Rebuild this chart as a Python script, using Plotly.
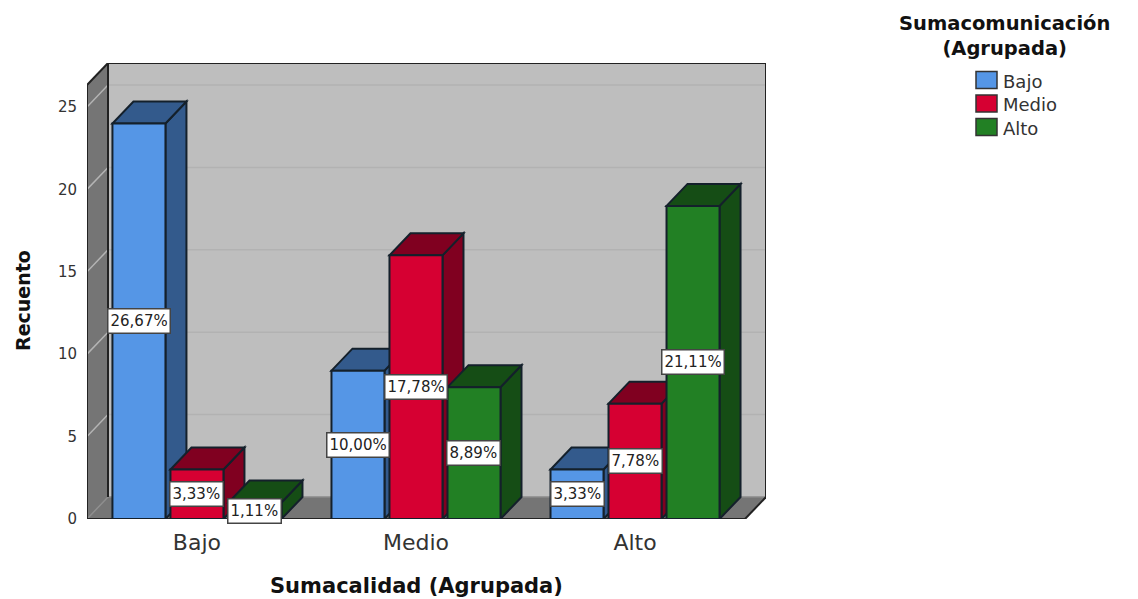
import plotly.graph_objects as go

# Survey counts grouped by Sumacalidad (x) and Sumacomunicación (series)
categories = ["Bajo", "Medio", "Alto"]
series_names = ["Bajo", "Medio", "Alto"]
counts_bajo = [24, 9, 3]
counts_medio = [3, 16, 7]
counts_alto = [1, 8, 19]
labels_bajo = ["26,67%", "10,00%", "3,33%"]
labels_medio = ["3,33%", "17,78%", "7,78%"]
labels_alto = ["1,11%", "8,89%", "21,11%"]
y_ticks = [0, 5, 10, 15, 20, 25]

front_colors = ["#5596E6", "#D60032", "#228024"]
shade_colors = ["#335A8C", "#800020", "#154D15"]
EDGE = "#14202B"

all_counts = [counts_bajo, counts_medio, counts_alto]
all_labels = [labels_bajo, labels_medio, labels_alto]

# Canvas and plot frame, in pixels
WIDTH, HEIGHT = 1138, 599
LEFT, RIGHT, TOP, BOTTOM = 87, 766, 63, 519

# Plot scale: one category step and one count unit, in pixels
STEP = 219.0
UNIT = 16.48
X_MIN, X_MAX = -0.502, 2.598
Y_MAX = (BOTTOM - TOP) / UNIT
DX = 21 / STEP          # receding depth, horizontal part
DY = 22 / UNIT          # receding depth, vertical part
PITCH = 58 / STEP       # distance between bars of one group
BAR_W = 53 / STEP


def px_x(px):
    return (px - LEFT) / (RIGHT - LEFT)


def px_y(py):
    return 1 - (py - TOP) / (BOTTOM - TOP)


def poly(points, fill, line=None, width=2):
    path = "M" + "L".join(f"{x},{y}" for x, y in points) + "Z"
    return dict(type="path", path=path, xref="x", yref="y", layer="between",
                fillcolor=fill, line=dict(color=line or fill, width=width if line else 0))


def seg(x0, y0, x1, y1, color, width=1.5):
    return dict(type="line", x0=x0, y0=y0, x1=x1, y1=y1, xref="x", yref="y",
                layer="between", line=dict(color=color, width=width))


shapes = []

# Chart box: back wall, left wall, floor
shapes.append(poly([(X_MIN + DX, DY), (X_MAX, DY), (X_MAX, Y_MAX), (X_MIN + DX, Y_MAX)], "#BEBEBE"))
shapes.append(poly([(X_MIN, 0), (X_MIN + DX, DY), (X_MIN + DX, Y_MAX), (X_MIN, Y_MAX - DY)], "#757575"))
shapes.append(poly([(X_MIN, 0), (X_MAX - DX, 0), (X_MAX, DY), (X_MIN + DX, DY)], "#757575"))

# Gridlines run across the back wall and down the left wall
for t in y_ticks[1:]:
    shapes.append(seg(X_MIN + DX, t + DY, X_MAX, t + DY, "#B2B2B2"))
    shapes.append(seg(X_MIN, t, X_MIN + DX, t + DY, "#B4B4B4"))
shapes.append(seg(X_MIN, 0, X_MIN + DX, DY, "#8E8E8E"))
shapes.append(seg(X_MIN + DX, DY, X_MAX, DY, "#8A8A8A"))

# Box outline
shapes.append(seg(X_MIN, 0, X_MAX - DX, 0, "#222222", 2))
shapes.append(seg(X_MAX - DX, 0, X_MAX, DY, "#222222", 2))
shapes.append(seg(X_MAX, DY, X_MAX, Y_MAX, "#222222", 2))
shapes.append(seg(X_MIN + DX, Y_MAX, X_MAX, Y_MAX, "#222222", 2))
shapes.append(seg(X_MIN + DX, DY, X_MIN + DX, Y_MAX, "#222222", 2))
shapes.append(seg(X_MIN, 0, X_MIN, Y_MAX - DY, "#222222", 2))
shapes.append(seg(X_MIN, Y_MAX - DY, X_MIN + DX, Y_MAX, "#222222", 2))

annotations = []

# Top and side faces of every bar sit under the front faces
for s, values in enumerate(all_counts):
    for g, v in enumerate(values):
        xc = g + (s - 1) * PITCH
        x0, x1 = xc - BAR_W / 2, xc + BAR_W / 2
        shapes.append(poly([(x1, 0), (x1 + DX, DY), (x1 + DX, v + DY), (x1, v)], shade_colors[s], EDGE))
        shapes.append(poly([(x0, v), (x1, v), (x1 + DX, v + DY), (x0 + DX, v + DY)], shade_colors[s], EDGE))
        annotations.append(dict(
            x=xc, y=v / 2, xref="x", yref="y", text=all_labels[s][g], showarrow=False,
            font=dict(family="DejaVu Sans", size=15, color="#222222"),
            bgcolor="#FFFFFF", bordercolor="#444444", borderwidth=1.5, borderpad=2,
            height=19, valign="middle", xanchor="center", yanchor="middle",
        ))

# Legend block
for i, name in enumerate(series_names):
    yc = 80 + i * 23.5
    shapes.append(dict(type="rect", xref="paper", yref="paper",
                       x0=px_x(976), x1=px_x(997), y0=px_y(yc + 8.5), y1=px_y(yc - 8.5),
                       fillcolor=front_colors[i], line=dict(color="#333333", width=1.5)))
    annotations.append(dict(x=px_x(1001), y=px_y(yc + 1.5), xref="paper", yref="paper",
                            text=name, showarrow=False, xanchor="left", yanchor="middle",
                            font=dict(family="DejaVu Sans", size=18, color="#333333")))
annotations.append(dict(x=px_x(1004), y=px_y(36), xref="paper", yref="paper",
                        text="<b>Sumacomunicación<br>(Agrupada)</b>", showarrow=False,
                        xanchor="center", yanchor="middle", align="center",
                        font=dict(family="DejaVu Sans", size=19.5, color="#111111")))

# Axis titles
annotations.append(dict(x=px_x(416), y=px_y(586), xref="paper", yref="paper",
                        text="<b>Sumacalidad (Agrupada)</b>", showarrow=False,
                        xanchor="center", yanchor="middle",
                        font=dict(family="DejaVu Sans", size=21, color="#111111")))
annotations.append(dict(x=px_x(23), y=px_y(301), xref="paper", yref="paper",
                        text="<b>Recuento</b>", showarrow=False, textangle=-90,
                        xanchor="center", yanchor="middle",
                        font=dict(family="DejaVu Sans", size=19, color="#111111")))

fig = go.Figure()
for s, values in enumerate(all_counts):
    fig.add_trace(go.Bar(
        x=categories, y=values, name=series_names[s],
        marker=dict(color=front_colors[s], line=dict(color=EDGE, width=2)),
    ))

fig.update_layout(
    width=WIDTH, height=HEIGHT,
    margin=dict(l=LEFT, r=WIDTH - RIGHT, t=TOP, b=HEIGHT - BOTTOM, autoexpand=False),
    barmode="group", bargap=1 - 3 * PITCH, bargroupgap=5 / 58,
    plot_bgcolor="#FFFFFF", paper_bgcolor="#FFFFFF",
    showlegend=False, shapes=shapes, annotations=annotations,
    xaxis=dict(
        type="category", range=[X_MIN, X_MAX], showgrid=False, zeroline=False, showline=False,
        ticks="", ticklabelstandoff=8, automargin=False,
        tickfont=dict(family="DejaVu Sans", size=22, color="#333333"),
    ),
    yaxis=dict(
        range=[0, Y_MAX], tickmode="array", tickvals=y_ticks, showgrid=False, zeroline=False,
        showline=False, ticks="", ticklabelstandoff=9, automargin=False,
        tickfont=dict(family="DejaVu Sans", size=15, color="#333333"),
    ),
)

fig.write_html("out.html")
